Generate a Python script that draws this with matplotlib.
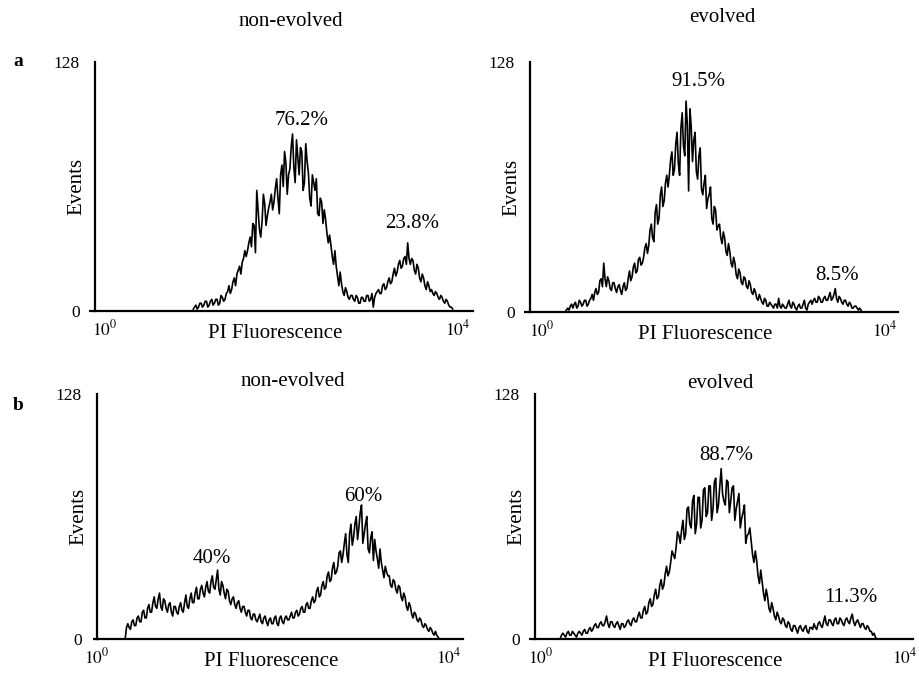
"""
Flow cytometry PI histograms: non-evolved vs evolved, rows a and b.
Values read by eye off the reference figure (log10 channel, events).
Each panel has the channel counts plus the counts of the half-step
channels in between (read separately), merged before plotting.
"""

import numpy as np
import matplotlib
matplotlib.use('Agg')
import matplotlib.pyplot as plt

plt.rcParams['font.family'] = ['Liberation Serif', 'DejaVu Serif']
plt.rcParams['mathtext.fontset'] = 'stix'

W, H = 919, 673
STEP = 0.03  # channel width in log10 units

# ---- data (events per channel, first channel at *_start) ----
a_nonevo_start = 1.00
a_nonevo = [1, 3, 2, 4, 3, 5, 3, 6, 4, 6,
            4, 7, 6, 10, 9, 15, 13, 21, 19, 27,
            28, 35, 33, 44, 62, 42, 46, 55, 49, 56,
            52, 63, 58, 70, 64, 76, 70, 84, 74, 88,
            70, 82, 66, 77, 58, 70, 62, 50, 58, 45,
            47, 35, 34, 24, 23, 13, 14, 8, 10, 6,
            8, 5, 7, 4, 7, 5, 8, 6, 2, 9,
            11, 9, 14, 12, 17, 15, 22, 20, 26, 23,
            28, 35, 24, 26, 19, 22, 15, 17, 11, 13,
            11, 8, 9, 6, 7, 4, 5, 2, 1]
a_nonevo_mid = [2, 1, 4, 2, 5, 2, 5, 3, 6, 3,
                8, 5, 9, 13, 11, 17, 19, 23, 25, 31,
                31, 38, 45, 30, 52, 38, 60, 44, 53, 60,
                56, 68, 50, 75, 82, 60, 73, 91, 66, 79,
                84, 62, 86, 71, 54, 66, 68, 49, 56, 52,
                40, 39, 28, 31, 18, 20, 10, 12, 7, 8,
                6, 8, 4, 7, 5, 8, 5, 9, 7, 10,
                9, 13, 11, 15, 14, 19, 18, 24, 22, 27,
                24, 27, 27, 21, 24, 17, 19, 13, 15, 10,
                9, 10, 7, 8, 5, 6, 3, 2]

a_evo_start = 0.27
a_evo = [0, 2, 3, 2, 5, 3, 5, 4, 6, 4,
         7, 6, 12, 10, 17, 25, 13, 16, 11, 15,
         10, 14, 9, 15, 12, 21, 18, 25, 21, 28,
         25, 33, 30, 42, 38, 51, 45, 60, 54, 66,
         64, 78, 70, 86, 76, 94, 85, 108, 62, 95,
         88, 72, 80, 63, 66, 53, 60, 48, 54, 42,
         45, 35, 38, 29, 31, 23, 25, 17, 20, 14,
         17, 12, 14, 9, 10, 6, 7, 4, 6, 3,
         4, 2, 4, 7, 2, 3, 2, 6, 2, 4,
         1, 4, 2, 6, 1, 5, 4, 7, 5, 7,
         5, 8, 6, 10, 7, 12, 5, 7, 4, 6,
         3, 4, 2, 3, 1, 1, 0]
a_evo_mid = [1, 1, 4, 4, 2, 6, 3, 6, 3, 6,
             9, 10, 9, 16, 13, 17, 18, 12, 15, 12,
             13, 11, 13, 11, 17, 16, 23, 20, 27, 24,
             28, 35, 34, 45, 36, 55, 48, 64, 57, 70,
             70, 82, 73, 92, 70, 102, 80, 96, 104, 77,
             92, 68, 84, 60, 70, 58, 64, 45, 52, 44,
             38, 41, 31, 35, 25, 28, 19, 22, 15, 18,
             13, 16, 10, 12, 7, 9, 5, 7, 3, 5,
             3, 4, 2, 3, 4, 2, 4, 3, 5, 2,
             3, 2, 4, 2, 4, 6, 6, 5, 8, 5,
             7, 6, 8, 6, 9, 7, 8, 5, 6, 4,
             5, 2, 3, 2, 2, 0]

b_nonevo_start = 0.32
b_nonevo = [0, 8, 5, 10, 7, 12, 9, 15, 11, 18,
            14, 22, 16, 24, 15, 20, 14, 19, 12, 17,
            13, 19, 14, 23, 16, 24, 19, 27, 21, 28,
            22, 30, 24, 33, 26, 36, 23, 28, 21, 25,
            18, 22, 16, 20, 14, 17, 12, 15, 10, 13,
            9, 13, 8, 12, 7, 11, 8, 12, 7, 12,
            8, 12, 10, 14, 11, 15, 13, 17, 14, 19,
            16, 22, 20, 27, 23, 30, 27, 35, 31, 40,
            35, 45, 40, 50, 44, 55, 49, 60, 52, 66,
            50, 60, 47, 53, 41, 46, 37, 40, 32, 35,
            33, 27, 30, 24, 27, 20, 22, 15, 17, 11,
            13, 9, 10, 6, 7, 4, 5, 2, 2, 0]
b_nonevo_mid = [6, 6, 9, 7, 11, 9, 14, 11, 16, 14,
                19, 17, 21, 17, 21, 16, 18, 14, 17, 14,
                17, 15, 19, 17, 21, 19, 24, 21, 26, 24,
                27, 25, 30, 27, 31, 26, 30, 24, 26, 20,
                21, 18, 19, 16, 17, 14, 15, 11, 13, 10,
                11, 9, 11, 9, 10, 8, 11, 8, 11, 9,
                11, 10, 12, 11, 14, 12, 16, 14, 18, 16,
                20, 19, 25, 22, 28, 26, 33, 30, 37, 34,
                38, 46, 44, 55, 40, 60, 53, 64, 58, 70,
                55, 64, 45, 56, 52, 42, 47, 36, 38, 33,
                28, 31, 26, 28, 22, 24, 17, 19, 13, 14,
                10, 11, 7, 8, 5, 6, 3, 4, 1]

b_evo_start = 0.21
b_evo = [0, 3, 1, 4, 2, 3, 1, 4, 2, 5,
         3, 6, 5, 8, 6, 9, 7, 12, 6, 9,
         6, 9, 5, 8, 7, 10, 7, 11, 9, 14,
         11, 17, 14, 21, 18, 26, 22, 31, 28, 38,
         35, 46, 42, 56, 50, 62, 55, 69, 58, 75,
         60, 74, 62, 79, 66, 80, 68, 84, 70, 89,
         72, 83, 66, 79, 62, 72, 58, 66, 50, 55,
         51, 40, 41, 29, 30, 20, 22, 14, 16, 10,
         12, 8, 10, 6, 8, 4, 7, 3, 7, 4,
         7, 3, 6, 8, 5, 9, 6, 12, 7, 10,
         7, 11, 8, 10, 7, 11, 8, 13, 7, 10,
         6, 8, 5, 6, 4, 3, 0]
b_evo_mid = [2, 2, 3, 2, 4, 2, 3, 3, 4, 3,
             5, 4, 7, 6, 8, 7, 9, 8, 9, 7,
             8, 7, 8, 6, 9, 8, 10, 9, 12, 11,
             15, 13, 19, 17, 23, 21, 28, 26, 34, 33,
             40, 44, 48, 54, 57, 52, 68, 60, 72, 55,
             74, 58, 78, 64, 80, 62, 82, 66, 80, 76,
             70, 82, 72, 80, 68, 76, 63, 70, 54, 58,
             44, 46, 33, 36, 24, 26, 16, 19, 12, 14,
             9, 11, 7, 9, 5, 7, 5, 6, 5, 6,
             4, 6, 5, 6, 8, 7, 9, 8, 10, 8,
             10, 8, 11, 8, 10, 9, 11, 9, 9, 8,
             8, 6, 7, 4, 2, 1]

titles = ['non-evolved', 'evolved', 'non-evolved', 'evolved']
pct_text = [['76.2%', '23.8%'], ['91.5%', '8.5%'],
            ['40%', '60%'], ['88.7%', '11.3%']]
pct_x = [[2.23, 3.48], [1.82, 3.44], [1.31, 3.03], [2.04, 3.40]]
pct_y = [[97.7, 45.2], [117.8, 18.9], [42.3, 74.2], [96.1, 21.9]]
y_ticks = [0, 128]
x_ticks = [0, 4]
x_ticklabels = ['$10^0$', '$10^4$']

# ---- layout (pixels in the 919x673 figure) ----
# box = (left, right, top, bottom) of the axes, title = centre of title
panels = [
    dict(box=(95, 473, 62, 311), xlim=(-0.113, 4.170), title=(291, 22),
         start=a_nonevo_start, y=a_nonevo, mid=a_nonevo_mid),
    dict(box=(530, 898, 62, 312), xlim=(-0.140, 4.152), title=(722, 17),
         start=a_evo_start, y=a_evo, mid=a_evo_mid),
    dict(box=(97, 463, 394, 639), xlim=(0.023, 4.158), title=(293, 382),
         start=b_nonevo_start, y=b_nonevo, mid=b_nonevo_mid),
    dict(box=(535, 913, 394, 639), xlim=(-0.066, 4.088), title=(720, 383),
         start=b_evo_start, y=b_evo, mid=b_evo_mid),
]

FS = 15
TICK_FS = 12.5


def merge_channels(start, main, mid):
    """Interleave full-step and half-step channel counts."""
    main = np.asarray(main, dtype=float)
    mid = np.asarray(mid, dtype=float)
    n = len(main)
    x = np.empty(2 * n - 1)
    y = np.empty(2 * n - 1)
    x[0::2] = start + STEP * np.arange(n)
    x[1::2] = start + STEP * (np.arange(n - 1) + 0.5)
    y[0::2] = main
    y[1::2] = mid
    return x, y


fig = plt.figure(figsize=(W / 100, H / 100), dpi=100)

for k, p in enumerate(panels):
    l, r, t, b = p['box']
    ax = fig.add_axes([l / W, 1 - b / H, (r - l) / W, (b - t) / H])
    x, y = merge_channels(p['start'], p['y'], p['mid'])
    ax.plot(x, y, color='black', lw=1.2)

    ax.set_xlim(*p['xlim'])
    ax.set_ylim(0, 128)
    for s in ('top', 'right'):
        ax.spines[s].set_visible(False)
    for s in ('left', 'bottom'):
        ax.spines[s].set_linewidth(1.6)
    # short stub of the baseline left of the y axis
    ax.plot([p['xlim'][0] - 0.07, p['xlim'][0]], [0, 0], color='black',
            lw=1.6, clip_on=False, solid_capstyle='butt')

    ax.set_yticks(y_ticks)
    ax.set_yticklabels([str(v) for v in y_ticks], fontsize=TICK_FS)
    ax.set_xticks(x_ticks)
    ax.set_xticklabels(x_ticklabels, fontsize=TICK_FS)
    ax.tick_params(axis='y', length=0, pad=11)
    ax.tick_params(axis='x', length=0, pad=6)

    ax.annotate('PI Fluorescence', xy=(0.477, 0), xycoords='axes fraction',
                xytext=(0, -16), textcoords='offset points',
                ha='center', va='center', fontsize=FS)
    ax.annotate('Events', xy=(0, 0.5), xycoords='axes fraction',
                xytext=(-13, 0), textcoords='offset points', rotation=90,
                ha='center', va='center', fontsize=FS)

    for txt, px_, py_ in zip(pct_text[k], pct_x[k], pct_y[k]):
        ax.text(px_, py_, txt, ha='center', va='center', fontsize=FS)

    tx, ty = p['title']
    fig.text(tx / W, 1 - ty / H, titles[k], ha='center', va='center',
             fontsize=FS)

fig.text(18 / W, 1 - 62 / H, 'a', ha='center', va='center', fontsize=14,
         fontweight='bold')
fig.text(18 / W, 1 - 405 / H, 'b', ha='center', va='center', fontsize=14,
         fontweight='bold')

fig.savefig('out.png', dpi=100)
